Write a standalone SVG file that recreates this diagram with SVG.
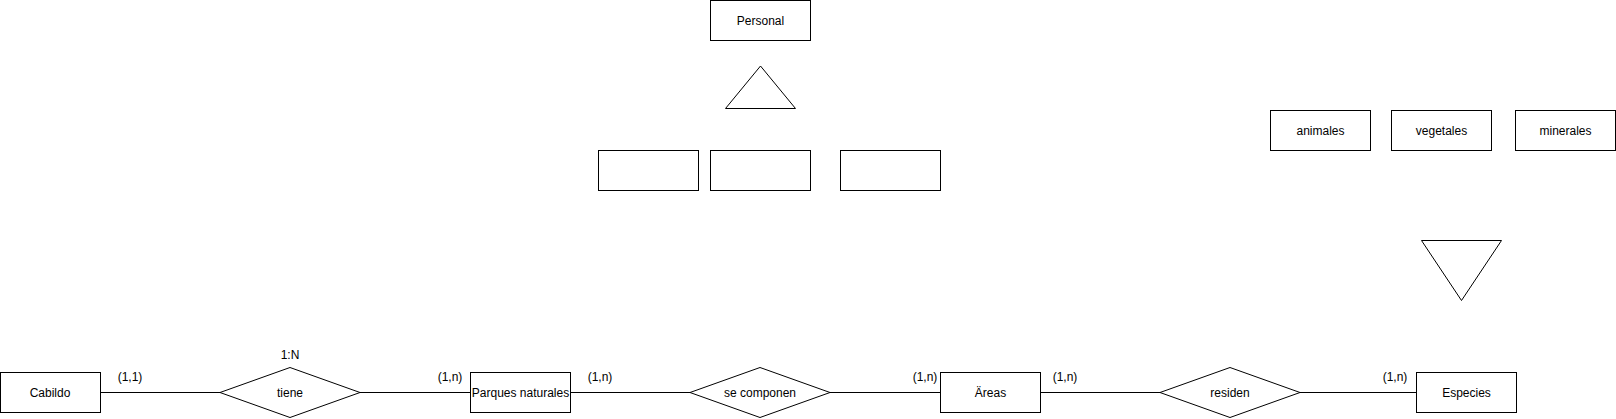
<svg xmlns="http://www.w3.org/2000/svg" width="1616" height="419" viewBox="0 0 1616 419">
<style>
.s{fill:#fff;stroke:#000;stroke-width:1}
.t{font-family:"Liberation Sans",Arial,Helvetica,sans-serif;font-size:12px;fill:#000;text-anchor:middle}
.c{stroke:#000;stroke-width:1;fill:none}
</style>
<rect width="1616" height="419" fill="#fff"/>
<g id="connectors">
<line class="c" x1="100.5" y1="392.5" x2="220" y2="392.5"/>
<line class="c" x1="360" y1="392.5" x2="470.5" y2="392.5"/>
<line class="c" x1="570.5" y1="392.5" x2="690" y2="392.5"/>
<line class="c" x1="830" y1="392.5" x2="940.5" y2="392.5"/>
<line class="c" x1="1040.5" y1="392.5" x2="1160" y2="392.5"/>
<line class="c" x1="1300" y1="392.5" x2="1416.5" y2="392.5"/>
</g>
<g id="labels">
<text class="t" x="130" y="381">(1,1)</text>
<text class="t" x="290" y="359">1:N</text>
<text class="t" x="450" y="381">(1,n)</text>
<text class="t" x="600" y="381">(1,n)</text>
<text class="t" x="925" y="381">(1,n)</text>
<text class="t" x="1065" y="381">(1,n)</text>
<text class="t" x="1395" y="381">(1,n)</text>
</g>
<g id="cabildo"><rect class="s" x="0.5" y="372.5" width="100" height="40"/><text class="t" x="50" y="396.5">Cabildo</text></g>
<g id="tiene"><polygon class="s" points="290,367.5 360,392.5 290,417.5 220,392.5"/><text class="t" x="290" y="396.5">tiene</text></g>
<g id="parques"><rect class="s" x="470.5" y="372.5" width="100" height="40"/><text class="t" x="520.5" y="396.5">Parques naturales</text></g>
<g id="secomponen"><polygon class="s" points="760,367.5 830,392.5 760,417.5 690,392.5"/><text class="t" x="760" y="396.5">se componen</text></g>
<g id="areas"><rect class="s" x="940.5" y="372.5" width="100" height="40"/><text class="t" x="990.5" y="396.5">Äreas</text></g>
<g id="residen"><polygon class="s" points="1230,367.5 1300,392.5 1230,417.5 1160,392.5"/><text class="t" x="1230" y="396.5">residen</text></g>
<g id="especies"><rect class="s" x="1416.5" y="372.5" width="100" height="40"/><text class="t" x="1466.5" y="396.5">Especies</text></g>
<g id="personal"><rect class="s" x="710.5" y="0.5" width="100" height="40"/><text class="t" x="760.5" y="24.5">Personal</text></g>
<g id="isa-personal"><polygon class="s" points="760.5,66 795.5,108.5 725.5,108.5"/></g>
<g id="sub1"><rect class="s" x="598.5" y="150.5" width="100" height="40"/></g>
<g id="sub2"><rect class="s" x="710.5" y="150.5" width="100" height="40"/></g>
<g id="sub3"><rect class="s" x="840.5" y="150.5" width="100" height="40"/></g>
<g id="animales"><rect class="s" x="1270.5" y="110.5" width="100" height="40"/><text class="t" x="1320.5" y="134.5">animales</text></g>
<g id="vegetales"><rect class="s" x="1391.5" y="110.5" width="100" height="40"/><text class="t" x="1441.5" y="134.5">vegetales</text></g>
<g id="minerales"><rect class="s" x="1515.5" y="110.5" width="100" height="40"/><text class="t" x="1565.5" y="134.5">minerales</text></g>
<g id="isa-especies"><polygon class="s" points="1421.5,240.5 1501.5,240.5 1461.5,300.5"/></g>
</svg>
